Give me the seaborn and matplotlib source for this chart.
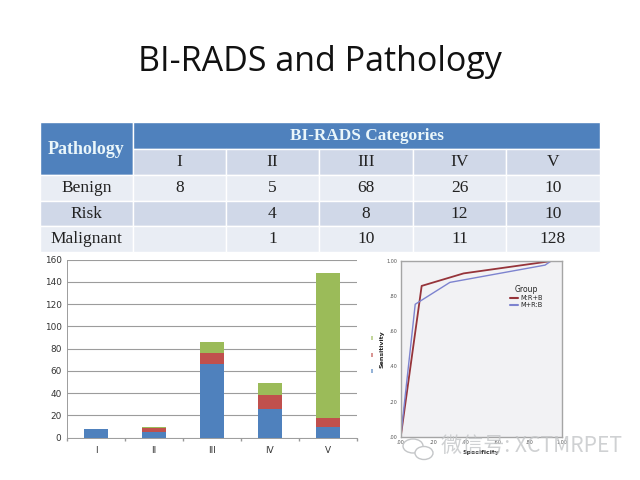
import numpy as np
import pandas as pd
import matplotlib
matplotlib.use("Agg")
import matplotlib.pyplot as plt
from matplotlib.patches import Rectangle, Ellipse
import seaborn as sns

# ── Data ──────────────────────────────────────────────
categories = ["I", "II", "III", "IV", "V"]
table_rows = ["Benign", "Risk", "Malignant"]
table_benign = ["8", "5", "68", "26", "10"]
table_risk = ["", "4", "8", "12", "10"]
table_malignant = ["", "1", "10", "11", "128"]

# bar heights as drawn in the chart
benign = [8, 5, 66, 26, 10]
risk = [0, 4, 10, 12, 8]
malignant = [0, 1, 10, 11, 130]

roc_a_x = [0, 0.13, 0.39, 0.95, 1.0]
roc_a_y = [0, 0.857, 0.928, 1.0, 1.0]
roc_b_x = [0, 0.09, 0.305, 0.895, 0.935, 1.0]
roc_b_y = [0, 0.753, 0.877, 0.975, 1.0, 1.0]
roc_ticks = [0, 0.2, 0.4, 0.6, 0.8, 1.0]
roc_ticklabels = [".00", ".20", ".40", ".60", ".80", "1.00"]

BLUE, RED, GREEN = "#4f81bd", "#c0504d", "#9bbb59"
W, H = 640, 480

sns.set_theme(style="white")
fig = plt.figure(figsize=(6.4, 4.8), dpi=100, facecolor="white")


def px_axes(x0, y0, x1, y1, **kw):
    # axes placed with picture pixel coordinates (y down)
    return fig.add_axes([x0 / W, 1 - y1 / H, (x1 - x0) / W, (y1 - y0) / H], **kw)


# ── Slide layer: title, table ─────────────────────────
slide = px_axes(0, 0, W, H)
slide.set_xlim(0, W)
slide.set_ylim(H, 0)
slide.axis("off")
slide.text(320, 62, "BI-RADS and Pathology", ha="center", va="center",
           fontsize=24.5, family="Open Sans", color="#111111")

col_x = [40, 133, 226, 319, 413, 506, 600]
row_y = [122, 149, 175, 201, 226, 252]
LIGHT, MID = "#e9edf4", "#d0d8e8"
SERIF = "Liberation Serif"


def cell(x0, y0, x1, y1, color):
    slide.add_patch(Rectangle((x0, y0), x1 - x0, y1 - y0, facecolor=color,
                              edgecolor="white", linewidth=1))


cell(col_x[0], row_y[0], col_x[1], row_y[2], BLUE)
slide.text((col_x[0] + col_x[1]) / 2, row_y[1], "Pathology", ha="center", va="center",
           fontsize=13, family=SERIF, weight="bold", color="#eaf6fa")
cell(col_x[1], row_y[0], col_x[6], row_y[1], BLUE)
slide.text((col_x[1] + col_x[6]) / 2, (row_y[0] + row_y[1]) / 2, "BI-RADS Categories",
           ha="center", va="center", fontsize=12.4, family=SERIF, weight="bold", color="#eaf6fa")
for i, cat in enumerate(categories):
    cell(col_x[i + 1], row_y[1], col_x[i + 2], row_y[2], MID)
    slide.text((col_x[i + 1] + col_x[i + 2]) / 2, (row_y[1] + row_y[2]) / 2, cat,
               ha="center", va="center", fontsize=12.5, family=SERIF, color="#222222")

table_values = [table_benign, table_risk, table_malignant]
for r, name in enumerate(table_rows):
    fill = LIGHT if r % 2 == 0 else MID
    y0, y1 = row_y[r + 2], row_y[r + 3]
    cell(col_x[0], y0, col_x[1], y1, fill)
    slide.text((col_x[0] + col_x[1]) / 2, (y0 + y1) / 2, name, ha="center", va="center",
               fontsize=12.5, family=SERIF, color="#222222")
    for c, val in enumerate(table_values[r]):
        cell(col_x[c + 1], y0, col_x[c + 2], y1, fill)
        slide.text((col_x[c + 1] + col_x[c + 2]) / 2, (y0 + y1) / 2, val, ha="center",
                   va="center", fontsize=12.5, family=SERIF, color="#222222")

# ── Stacked bars ──────────────────────────────────────
ax = px_axes(67, 259.5, 357, 437.7)
ben = np.array(benign)
ris = np.array(risk)
mal = np.array(malignant)
bar_style = dict(width=0.4, saturation=1, edgecolor="none", linewidth=0, ax=ax)
sns.barplot(x=categories, y=ben, color=BLUE, **bar_style)
sns.barplot(x=categories, y=ris, bottom=ben, color=RED, **bar_style)
sns.barplot(x=categories, y=mal, bottom=ben + ris, color=GREEN, **bar_style)
ax.set_ylim(0, 160)
ax.set_yticks(range(0, 161, 20))
ax.yaxis.grid(True, color="#9c9c9c", linewidth=0.8)
ax.set_axisbelow(True)
ax.set_xticks(np.arange(-0.5, 5), minor=True)
ax.tick_params(axis="both", labelsize=6.4, labelcolor="#333333", length=2, color="#999999", pad=2)
ax.tick_params(axis="x", which="major", pad=6, length=0)
ax.tick_params(axis="x", which="minor", length=2, color="#999999", bottom=True)
sns.despine(ax=ax, top=True, right=True)
for side in ["left", "bottom"]:
    ax.spines[side].set_color("#9c9c9c")
    ax.spines[side].set_linewidth(0.7)

# leftover legend marks of the bar chart, mostly covered by the ROC picture
for y, c in zip([338, 355, 371], [GREEN, RED, BLUE]):
    slide.add_patch(Rectangle((371, y - 2), 2, 4, facecolor=c, edgecolor="none", alpha=0.6))

# ── ROC panel ─────────────────────────────────────────
roc = px_axes(400.7, 260.7, 562, 437, facecolor="#f2f2f4")
roc_df = pd.DataFrame({
    "Specificity": roc_a_x + roc_b_x,
    "Sensitivity": roc_a_y + roc_b_y,
    "Group": ["M:R+B"] * len(roc_a_x) + ["M+R:B"] * len(roc_b_x),
})
sns.lineplot(data=roc_df, x="Specificity", y="Sensitivity", hue="Group",
             palette=["#96343a", "#7d83cf"], sort=False, errorbar=None, ax=roc, legend=True)
roc.lines[0].set_linewidth(1.3)
roc.lines[1].set_linewidth(1.0)
roc.set_xlim(0, 1)
roc.set_ylim(0, 1)
roc.set_xticks(roc_ticks)
roc.set_xticklabels(roc_ticklabels)
roc.set_yticks(roc_ticks)
roc.set_yticklabels(roc_ticklabels)
roc.tick_params(labelsize=3.5, labelcolor="#555555", length=1.5, width=0.5, color="#888888", pad=1)
roc.set_xlabel("Specificity", fontsize=4.5, weight="bold", labelpad=3, color="#333333")
roc.set_ylabel("Sensitivity", fontsize=4.5, weight="bold", labelpad=1, color="#222222")
for s in roc.spines.values():
    s.set_color("#a5a5a5")
    s.set_linewidth(1.0)
sns.move_legend(roc, "upper left", bbox_to_anchor=(0.66, 0.88), frameon=False, fontsize=4.8,
                title="Group", title_fontsize=5.5, handlelength=1.2, labelspacing=0.15,
                handletextpad=0.3, borderpad=0)

# ── Watermark on top ──────────────────────────────────
top = px_axes(0, 0, W, H)
top.set_xlim(0, W)
top.set_ylim(H, 0)
top.axis("off")
top.patch.set_alpha(0)
top.text(441, 446, "微信号: XCTMRPET", ha="left", va="center", fontsize=15.2,
         family=["Noto Sans CJK SC", "DejaVu Sans"], color="#c4c6c8", alpha=0.8, weight="light")
top.add_patch(Ellipse((413, 446), 20, 14, fill=False, edgecolor="#c4c6c8", linewidth=1))
top.add_patch(Ellipse((424, 453), 18, 13, facecolor="white", edgecolor="#c4c6c8", linewidth=1))

fig.savefig("out.png", dpi=100)
